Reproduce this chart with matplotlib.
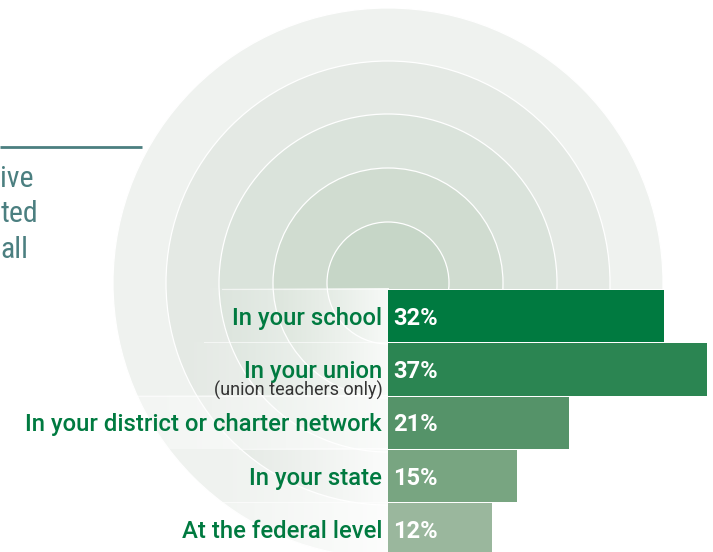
import numpy as np
import matplotlib
matplotlib.use("Agg")
import matplotlib.pyplot as plt
from matplotlib.patches import Circle, Rectangle

# ---------------- data ----------------
categories = ["In your school", "In your union", "In your district or charter network",
              "In your state", "At the federal level"]
subtitles = ["", "(union teachers only)", "", "", ""]
values = [32, 37, 21, 15, 12]
value_labels = ["32%", "37%", "21%", "15%", "12%"]
title_fragments = ["ive", "ted", "all"]

# ---------------- style ----------------
bar_colors = ["#007a40", "#2b8552", "#559369", "#78a581", "#9ab79d"]
ring_colors = ["#eff2ef", "#e4e9e4", "#dae3db", "#d0dcd0", "#c6d6c7"]
ring_radii = [275, 222, 169, 115, 61]
label_green = "#007a40"
teal = "#4b7f80"

W, H = 713, 552
fig = plt.figure(figsize=(W / 100, H / 100), dpi=100)

# background decoration axes in pixel units
bg = fig.add_axes([0, 0, 1, 1], zorder=0)
bg.set_xlim(0, W)
bg.set_ylim(H, 0)
bg.axis("off")

cx, cy = 388, 283
for r, c in zip(ring_radii, ring_colors):
    bg.add_patch(Circle((cx, cy), r, facecolor=c, edgecolor="white", lw=0.9, zorder=1))

row_top = 289.5
pitch = 53.3
bg.add_patch(Rectangle((cx, row_top - 1), W - cx, H, facecolor="white", edgecolor="none", zorder=2))

# title fragments (cut off at the left edge of the original)
bg.plot([0, 142], [147, 147], color=teal, lw=2.0, solid_capstyle="butt", zorder=3)
title_font = ["Roboto Condensed", "Liberation Sans Narrow", "DejaVu Sans"]
for frag, y in zip(title_fragments, [187, 222.5, 258]):
    bg.text(0.5, y, frag, color=teal, fontsize=21.5, family=title_font,
            fontstretch="condensed", ha="left", va="baseline", zorder=3)

# ---------------- bars ----------------
n = len(values)
ax_top_frac = 1 - row_top / H
ax_bot_frac = 1 - (row_top + n * pitch) / H
ax = fig.add_axes([cx / W, ax_bot_frac, (W - cx) / W, ax_top_frac - ax_bot_frac], zorder=1)
ax.patch.set_visible(False)
ax.set_xlim(0, (W - cx) / 8.63)
ax.set_ylim(n - 0.5, -0.5)
ax.axis("off")
ypos = np.arange(n)
ax.barh(ypos, values, height=52.2 / pitch, color=bar_colors, edgecolor="none", zorder=2)

label_texts = []
for i, (cat, sub, vl) in enumerate(zip(categories, subtitles, value_labels)):
    t = ax.annotate(cat, xy=(0, i), xytext=(-6, -8.5), textcoords="offset pixels",
                    ha="right", va="baseline", fontsize=17.2, color=label_green,
                    family="Roboto", fontweight="medium", annotation_clip=False, zorder=5)
    group = [t]
    if sub:
        s = ax.annotate(sub, xy=(0, i), xytext=(-5, -26.5), textcoords="offset pixels",
                        ha="right", va="baseline", fontsize=13.0, color="#333333",
                        family="Roboto", annotation_clip=False, zorder=5)
        group.append(s)
    label_texts.append(group)
    ax.annotate(vl, xy=(0, i), xytext=(5, -8.5), textcoords="offset pixels",
                ha="left", va="baseline", fontsize=17.0, color="white",
                family="Roboto", fontweight="bold", annotation_clip=False, zorder=5)

# gradient white overlays behind each label row
fig.canvas.draw()
for i, group in enumerate(label_texts):
    left = min(t.get_window_extent().x0 for t in group) - 40
    top = row_top + i * pitch - 0.5
    bot = top + pitch
    xs = np.linspace(0, 1, 256)
    alpha = 0.87 * xs ** 1.3
    img = np.ones((1, 256, 4))
    img[..., 3] = alpha
    bg.imshow(img, extent=[left, cx, bot, top], aspect="auto", zorder=2.5,
              interpolation="bilinear")
    bg.plot([left + 30, cx], [top, top], color="white", lw=0.8, alpha=0.6, zorder=2.6)
bg.set_xlim(0, W)
bg.set_ylim(H, 0)

fig.savefig("out.png", dpi=100)
